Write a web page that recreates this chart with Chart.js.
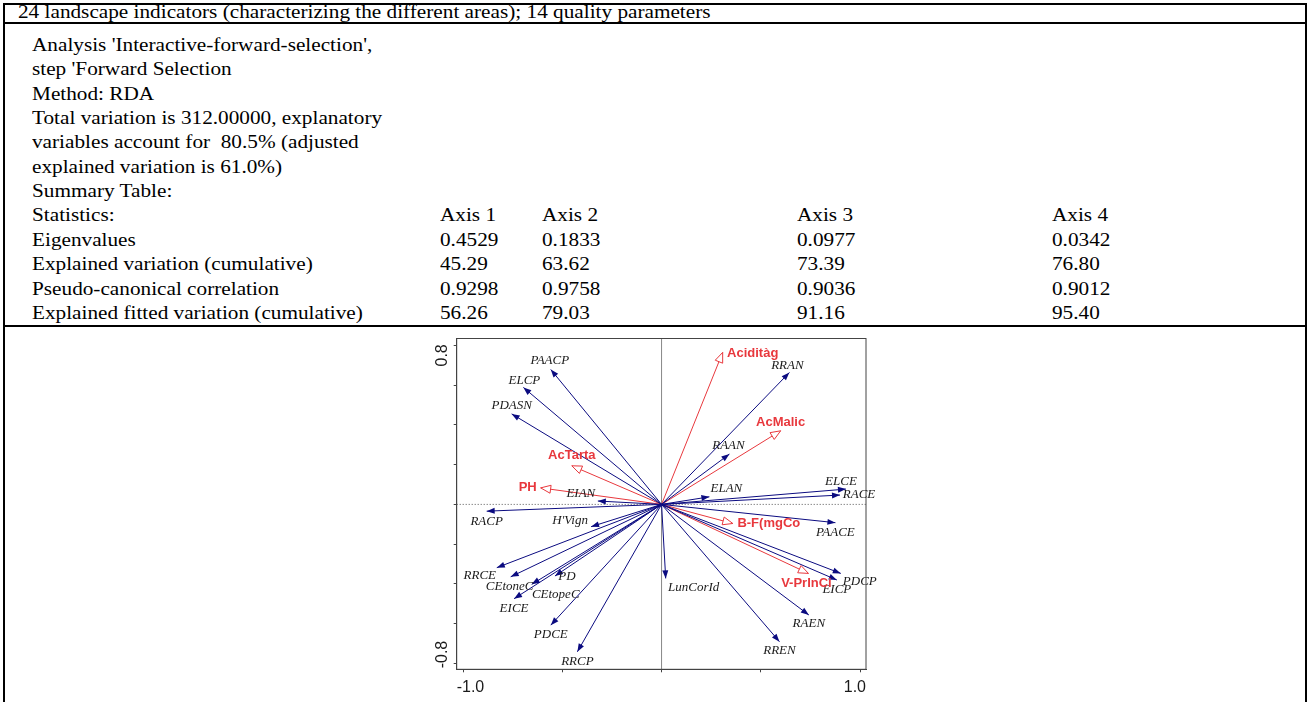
<!DOCTYPE html>
<html>
<head>
<meta charset="utf-8">
<script src="https://cdn.jsdelivr.net/npm/chart.js@4.4.0/dist/chart.umd.min.js"></script>
<style>
body { margin: 0; background: #fff; width: 1307px; height: 702px; overflow: hidden; position: relative;
       font-family: "Liberation Serif", "Times New Roman", serif; }
.hl { position: absolute; left: 3px; right: 0; height: 2px; background: #000; }
.vl { position: absolute; top: 3px; bottom: 0; width: 2px; background: #000; }
.t { position: absolute; font-size: 18px; line-height: 24px; white-space: pre; color: #000;
     transform: scaleX(1.18); transform-origin: 0 0; }
#plot { position: absolute; left: 400px; top: 330px; }
</style>
</head>
<body>
<div id="table"></div>
<canvas id="plot" width="520" height="372"></canvas>
<script>
// table text
const titleText = "24 landscape indicators (characterizing the different areas); 14 quality parameters";
const introLines = [
    "Analysis 'Interactive-forward-selection',",
    "step 'Forward Selection",
    "Method: RDA",
    "Total variation is 312.00000, explanatory",
    "variables account for  80.5% (adjusted",
    "explained variation is 61.0%)",
    "Summary Table:"
];
const statLabels = ["Statistics:", "Eigenvalues", "Explained variation (cumulative)",
    "Pseudo-canonical correlation", "Explained fitted variation (cumulative)"];
const axisHeaders = ["Axis 1", "Axis 2", "Axis 3", "Axis 4"];
const eigenvalues = ["0.4529", "0.1833", "0.0977", "0.0342"];
const explainedCum = ["45.29", "63.62", "73.39", "76.80"];
const pseudoCorr = ["0.9298", "0.9758", "0.9036", "0.9012"];
const fittedCum = ["56.26", "79.03", "91.16", "95.40"];

// biplot: landscape indicators (blue) and quality parameters (red)
const bioNames = ["PAACP", "ELCP", "PDASN", "EIAN", "RACP", "H'Vign", "RRCE", "CEtoneC", "PD", "CEtopeC",
    "EICE", "PDCE", "RRCP", "LunCorId", "RRAN", "RAAN", "ELAN", "ELCE", "RACE", "PAACE",
    "PDCP", "EICP", "RAEN", "RREN"];
const bioX = [-0.558, -0.696, -0.755, -0.321, -0.881, -0.355, -0.830, -0.760, -0.537, -0.654,
    -0.743, -0.558, -0.424, 0.021, 0.644, 0.342, 0.241, 0.929, 0.899, 0.876,
    0.903, 0.883, 0.742, 0.594];
const bioY = [0.678, 0.588, 0.455, 0.017, -0.034, -0.112, -0.318, -0.364, -0.360, -0.402,
    -0.474, -0.607, -0.741, -0.372, 0.663, 0.253, 0.038, 0.077, 0.047, -0.092,
    -0.347, -0.380, -0.556, -0.690];
const qualNames = ["Aciditàg", "AcMalic", "AcTarta", "PH", "B-F(mgCo", "V-PrInCi"];
const qualX = [0.308, 0.600, -0.452, -0.609, 0.359, 0.740];
const qualY = [0.764, 0.370, 0.194, 0.083, -0.096, -0.347];

const xTicks = [-1, -0.5, 0, 0.5, 1];
const yTicks = [-0.8, -0.6, -0.4, -0.2, 0, 0.2, 0.4, 0.6, 0.8];
const xTickLabels = ["-1.0", "1.0"];
const yTickLabels = ["0.8", "-0.8"];

// ---- table layout ----
const table = document.getElementById("table");
function addText(str, left, centerY) {
    const d = document.createElement("div");
    d.className = "t";
    d.textContent = str;
    d.style.left = left + "px";
    d.style.top = (centerY - 12) + "px";
    table.appendChild(d);
}
function addLine(cls, pos, prop) {
    const d = document.createElement("div");
    d.className = cls;
    d.style[prop] = pos + "px";
    table.appendChild(d);
}
addLine("hl", 3, "top");
addLine("hl", 22, "top");
addLine("hl", 325, "top");
addLine("vl", 3, "left");
addLine("vl", 1305, "left");

addText(titleText, 18, 11.5);
const rowStep = 24.35;
introLines.forEach((s, i) => addText(s, 32, 45 + i * rowStep));
const statRows = [axisHeaders, eigenvalues, explainedCum, pseudoCorr, fittedCum];
const colX = [440, 542, 797, 1052];
statLabels.forEach((s, i) => {
    const cy = 45 + (introLines.length + i) * rowStep;
    addText(s, 32, cy);
    statRows[i].forEach((v, j) => addText(v, colX[j], cy));
});

// ---- biplot ----
const navy = "#0b0b80";
const red = "#e8383d";

// label nudges in px from the arrow tip (centre of label)
const labelNudge = {
    "PAACP": [-1, -9], "ELCP": [1, -7], "PDASN": [0, -8], "EIAN": [-17, -7], "RACP": [0, 10],
    "H'Vign": [-21, -6], "RRCE": [-17, 8], "CEtoneC": [-1, 10], "PD": [12, 1], "CEtopeC": [24, 10],
    "EICE": [0, 10], "PDCE": [0, 9], "RRCP": [0, 10], "LunCorId": [28, 9], "RRAN": [-2, -7],
    "RAAN": [-1, -8], "ELAN": [17, -8], "ELCE": [-5, -8], "RACE": [19, 0], "PAACE": [0, 10],
    "PDCP": [19, 8], "EICP": [0, 10], "RAEN": [0, 9], "RREN": [0, 9],
    "Aciditàg": [30, 1], "AcMalic": [0, -8], "AcTarta": [0, -10], "PH": [-13, 0],
    "B-F(mgCo": [36, 0], "V-PrInCi": [-2, 10]
};

const datasets = [];
bioNames.forEach((n, i) => datasets.push({
    label: n, data: [{ x: 0, y: 0 }, { x: bioX[i], y: bioY[i] }],
    showLine: true, borderColor: navy, borderWidth: 1, pointRadius: 0, kind: "bio"
}));
qualNames.forEach((n, i) => datasets.push({
    label: n, data: [{ x: 0, y: 0 }, { x: qualX[i], y: qualY[i] }],
    showLine: true, borderColor: red, borderWidth: 1, pointRadius: 0, kind: "qual"
}));

function arrowHead(ctx, px, py, ang, len, hw) {
    const c = Math.cos(ang), s = Math.sin(ang);
    ctx.beginPath();
    ctx.moveTo(px, py);
    ctx.lineTo(px - len * c + hw * s, py - len * s - hw * c);
    ctx.lineTo(px - len * c - hw * s, py - len * s + hw * c);
    ctx.closePath();
}

const biplotDecor = {
    id: "biplotDecor",
    beforeDatasetsDraw(chart) {
        const { ctx, chartArea: a, scales: { x, y } } = chart;
        const x0 = x.getPixelForValue(0), y0 = y.getPixelForValue(0);
        ctx.save();
        ctx.strokeStyle = "#888";
        ctx.lineWidth = 1;
        ctx.beginPath();
        ctx.moveTo(x0, a.top); ctx.lineTo(x0, a.bottom);
        ctx.stroke();
        ctx.setLineDash([1, 2]);
        ctx.strokeStyle = "#555";
        ctx.beginPath();
        ctx.moveTo(a.left, y0); ctx.lineTo(a.right, y0);
        ctx.stroke();
        ctx.restore();
    },
    afterDatasetsDraw(chart) {
        const { ctx, chartArea: a, scales: { x, y } } = chart;
        const x0 = x.getPixelForValue(0), y0 = y.getPixelForValue(0);
        ctx.save();
        // frame
        ctx.strokeStyle = "#444";
        ctx.lineWidth = 1;
        ctx.strokeRect(a.left, a.top, a.right - a.left, a.bottom - a.top);

        // heads
        chart.data.datasets.forEach(ds => {
            const p = ds.data[1];
            const px = x.getPixelForValue(p.x), py = y.getPixelForValue(p.y);
            const ang = Math.atan2(py - y0, px - x0);
            if (ds.kind === "bio") {
                arrowHead(ctx, px, py, ang, 8, 3);
                ctx.fillStyle = navy;
                ctx.fill();
            } else {
                arrowHead(ctx, px, py, ang, 10, 4);
                ctx.fillStyle = "#fff";
                ctx.fill();
                ctx.strokeStyle = red;
                ctx.stroke();
            }
        });

        // labels
        ctx.textAlign = "center";
        ctx.textBaseline = "middle";
        chart.data.datasets.forEach(ds => {
            const p = ds.data[1];
            const nd = labelNudge[ds.label] || [0, 0];
            const px = x.getPixelForValue(p.x) + nd[0], py = y.getPixelForValue(p.y) + nd[1];
            if (ds.kind === "bio") {
                ctx.font = "italic 13px 'Liberation Serif', 'Times New Roman', serif";
                ctx.fillStyle = "#1a1a1a";
            } else {
                ctx.font = "bold 13px 'Liberation Sans', Arial, sans-serif";
                ctx.fillStyle = red;
            }
            ctx.fillText(ds.label, px, py);
        });

        // tick labels at the extremes, aligned inward
        ctx.fillStyle = "#1a1a1a";
        ctx.font = "16px 'Liberation Sans', Arial, sans-serif";
        ctx.textBaseline = "middle";
        const ly = a.bottom + 18.5;
        ctx.textAlign = "left";
        ctx.fillText(xTickLabels[0], a.left, ly);
        ctx.textAlign = "right";
        ctx.fillText(xTickLabels[1], a.right, ly);

        const lx = a.left - 14;
        ctx.save();
        ctx.translate(lx, y.getPixelForValue(0.8) - 1);
        ctx.rotate(-Math.PI / 2);
        ctx.textAlign = "right";
        ctx.fillText(yTickLabels[0], 0, 0);
        ctx.restore();
        ctx.save();
        ctx.translate(lx, a.bottom - 1);
        ctx.rotate(-Math.PI / 2);
        ctx.textAlign = "left";
        ctx.fillText(yTickLabels[1], 0, 0);
        ctx.restore();

        ctx.restore();
    }
};

new Chart(document.getElementById("plot"), {
    type: "scatter",
    data: { datasets: datasets },
    options: {
        responsive: false,
        animation: false,
        events: [],
        layout: { padding: { left: 53.7, right: 54, top: 8.5, bottom: 29.7 } },
        plugins: { legend: { display: false }, tooltip: { enabled: false } },
        scales: {
            x: {
                type: "linear", min: -1.032, max: 1.03,
                afterBuildTicks: s => { s.ticks = xTicks.map(v => ({ value: v })); },
                ticks: { display: false },
                grid: { drawOnChartArea: false, drawTicks: true, tickLength: 3, color: "#444" },
                border: { display: true, color: "#444" }
            },
            y: {
                type: "linear", min: -0.829, max: 0.834,
                afterBuildTicks: s => { s.ticks = yTicks.map(v => ({ value: v })); },
                ticks: { display: false },
                grid: { drawOnChartArea: false, drawTicks: true, tickLength: 3, color: "#444" },
                border: { display: true, color: "#444" }
            }
        }
    },
    plugins: [biplotDecor]
});
</script>
</body>
</html>
